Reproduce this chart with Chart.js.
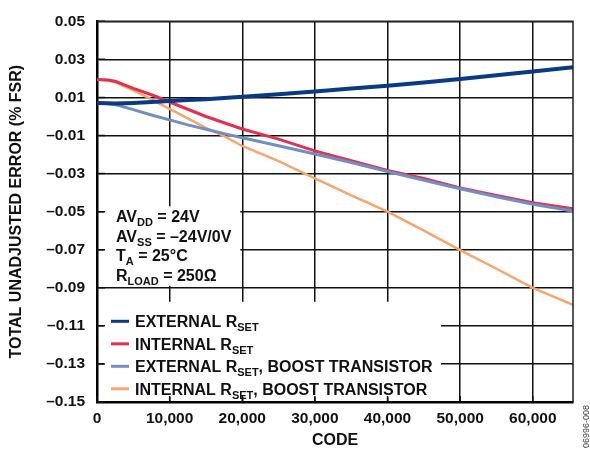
<!DOCTYPE html>
<html>
<head>
<meta charset="utf-8">
<script src="https://cdn.jsdelivr.net/npm/chart.js@4/dist/chart.umd.min.js"></script>
<style>
html,body{margin:0;padding:0;background:#fff;}
#wrap{width:590px;height:453px;}
</style>
</head>
<body>
<div id="wrap"><canvas id="c" width="590" height="453"></canvas></div>
<script>
// ---- data ----
const codes = [0, 1500, 2500, 5000, 7500, 10000, 12500, 15000, 17500, 20000, 25000, 30000, 35000, 40000, 45000, 50000, 55000, 60000, 65535];
const externalRset = [0.0071, 0.0069, 0.0068, 0.0071, 0.0076, 0.0081, 0.0086, 0.0091, 0.0097, 0.0103, 0.0117, 0.0131, 0.0147, 0.0162, 0.0178, 0.0197, 0.0217, 0.0236, 0.0259];
const internalRset = [0.0194, 0.0192, 0.0185, 0.0148, 0.0114, 0.0076, 0.0038, 0.0000, -0.0033, -0.0066, -0.0119, -0.0181, -0.0232, -0.0283, -0.0326, -0.0376, -0.0415, -0.0453, -0.0485];
const externalRsetBoost = [0.0071, 0.0067, 0.0063, 0.0036, 0.0008, -0.0018, -0.0044, -0.0067, -0.0090, -0.0112, -0.0154, -0.0197, -0.0242, -0.0289, -0.0335, -0.0380, -0.0422, -0.0461, -0.0497];
const internalRsetBoost = [0.0194, 0.0189, 0.0180, 0.0137, 0.0090, 0.0040, -0.0010, -0.0060, -0.0103, -0.0155, -0.0235, -0.0325, -0.0415, -0.0500, -0.0600, -0.0702, -0.0800, -0.0900, -0.0990];

const seriesLabels = ['EXTERNAL RSET', 'INTERNAL RSET', 'EXTERNAL RSET, BOOST TRANSISTOR', 'INTERNAL RSET, BOOST TRANSISTOR'];
const legendParts = [
  [['EXTERNAL R'], ['SET', 1]],
  [['INTERNAL R'], ['SET', 1]],
  [['EXTERNAL R'], ['SET', 1], [', BOOST TRANSISTOR']],
  [['INTERNAL R'], ['SET', 1], [', BOOST TRANSISTOR']]
];
const conditionParts = [
  [['AV'], ['DD', 1], [' = 24V']],
  [['AV'], ['SS', 1], [' = \u201324V/0V']],
  [['T'], ['A', 1], [' = 25\u00B0C']],
  [['R'], ['LOAD', 1], [' = 250\u03A9']]
];
const xTicks = [0, 10000, 20000, 30000, 40000, 50000, 60000];
const xTickLabels = ['0', '10,000', '20,000', '30,000', '40,000', '50,000', '60,000'];
const yTicks = [-0.15, -0.13, -0.11, -0.09, -0.07, -0.05, -0.03, -0.01, 0.01, 0.03, 0.05];
const yTickLabels = ['\u20130.15','\u20130.13','\u20130.11','\u20130.09','\u20130.07','\u20130.05','\u20130.03','\u20130.01','0.01','0.03','0.05'];

const colors = ['#0b3a85', '#e3304f', '#7090c4', '#f9a56c'];
const widths = [4, 3, 3, 2.5];
const seriesValues = [externalRset, internalRset, externalRsetBoost, internalRsetBoost];

const FONT = '"Liberation Sans", Arial, sans-serif';

function drawRich(ctx, parts, x, y, size, subSize) {
  let cx = x;
  for (const p of parts) {
    const sub = p[1] === 1;
    ctx.font = 'bold ' + (sub ? subSize : size) + 'px ' + FONT;
    ctx.fillText(p[0], cx, sub ? y + 4 : y);
    cx += ctx.measureText(p[0]).width;
  }
}

const decorPlugin = {
  id: 'decor',
  beforeDatasetsDraw(chart) {
    const {ctx, chartArea: a, scales: {x, y}} = chart;
    ctx.save();
    ctx.fillStyle = '#fff';
    // condition text box
    const b1r = x.getPixelForValue(20000) - 2;
    const b1b = y.getPixelForValue(-0.09) - 2;
    ctx.fillRect(a.left + 7, a.top + 185, b1r - (a.left + 7), b1b - (a.top + 185));
    // legend box
    const b2t = y.getPixelForValue(-0.09) + 14;
    ctx.fillRect(a.left + 7, b2t, 441 - (a.left + 7), a.bottom - 5 - b2t);
    // short inward ticks
    ctx.strokeStyle = '#111';
    ctx.lineWidth = 1.5;
    ctx.beginPath();
    for (const v of yTicks) {
      const py = y.getPixelForValue(v);
      ctx.moveTo(a.left, py); ctx.lineTo(a.left + 8, py);
    }
    for (const v of xTicks) {
      const px = x.getPixelForValue(v);
      ctx.moveTo(px, a.bottom); ctx.lineTo(px, a.bottom - 6);
    }
    ctx.stroke();
    ctx.restore();
  },
  afterDatasetsDraw(chart) {
    const {ctx, chartArea: a} = chart;
    ctx.save();
    // top and right frame
    ctx.strokeStyle = '#222';
    ctx.lineWidth = 1.5;
    ctx.beginPath();
    ctx.moveTo(a.left, a.top); ctx.lineTo(a.right, a.top); ctx.lineTo(a.right, a.bottom);
    ctx.stroke();
    ctx.fillStyle = '#111';
    ctx.textBaseline = 'alphabetic';
    ctx.textAlign = 'left';
    // condition text
    for (let i = 0; i < conditionParts.length; i++) {
      drawRich(ctx, conditionParts[i], a.left + 19, a.top + 201 + i * 19.5, 16, 11);
    }
    // legend
    for (let i = 0; i < legendParts.length; i++) {
      const cy = a.top + 300 + i * 22.5;
      ctx.strokeStyle = colors[i];
      ctx.lineWidth = 3;
      ctx.beginPath();
      ctx.moveTo(a.left + 14, cy); ctx.lineTo(a.left + 32, cy);
      ctx.stroke();
      ctx.fillStyle = '#111';
      drawRich(ctx, legendParts[i], a.left + 38, cy + 6, 16, 11);
    }
    // figure id
    ctx.save();
    ctx.translate(587, 405);
    ctx.rotate(-Math.PI / 2);
    ctx.font = '9px ' + FONT;
    ctx.fillStyle = '#444';
    ctx.textAlign = 'right';
    ctx.textBaseline = 'middle';
    ctx.fillText('06996-008', 0, 0);
    ctx.restore();
    ctx.restore();
  }
};

const tickFont = {family: FONT, size: 15.5, weight: 'bold'};
const titleFont = {family: FONT, size: 16, weight: 'bold'};

new Chart(document.getElementById('c'), {
  type: 'line',
  data: {
    datasets: seriesValues.map((vals, i) => ({
      label: seriesLabels[i],
      data: codes.map((c, j) => ({x: c, y: vals[j]})),
      borderColor: colors[i],
      backgroundColor: colors[i],
      borderWidth: widths[i],
      pointRadius: 0,
      tension: 0,
      fill: false,
      order: [1, 3, 2, 4][i]
    }))
  },
  options: {
    responsive: false,
    animation: false,
    devicePixelRatio: 1,
    layout: {padding: {top: 15, right: 17, left: 0, bottom: 0}},
    plugins: {legend: {display: false}, tooltip: {enabled: false}},
    scales: {
      x: {
        type: 'linear', min: 0, max: 65535,
        afterBuildTicks(s) { s.ticks = xTicks.map(v => ({value: v})); },
        ticks: {
          maxRotation: 0, autoSkip: false,
          font: tickFont, color: '#111', padding: 7,
          callback: (v, i) => xTickLabels[i]
        },
        grid: {color: '#111', lineWidth: 1.5, drawTicks: false},
        border: {color: '#000', width: 2.5},
        title: {display: true, text: 'CODE', font: titleFont, color: '#111', padding: {top: 0, bottom: 2.4}},
        afterFit(s) { s.height = 51; }
      },
      y: {
        min: -0.15, max: 0.05,
        afterBuildTicks(s) { s.ticks = yTicks.map(v => ({value: v})); },
        ticks: {
          font: tickFont, color: '#111', padding: 12, autoSkip: false,
          callback: (v, i) => yTickLabels[i]
        },
        grid: {color: '#111', lineWidth: 1.5, drawTicks: false},
        border: {color: '#000', width: 2.5},
        title: {display: true, text: 'TOTAL UNADJUSTED ERROR (% FSR)', font: titleFont, color: '#111', padding: {top: 7.4, bottom: 0}},
        afterFit(s) { s.width = 97; }
      }
    }
  },
  plugins: [decorPlugin]
});
</script>
</body>
</html>
